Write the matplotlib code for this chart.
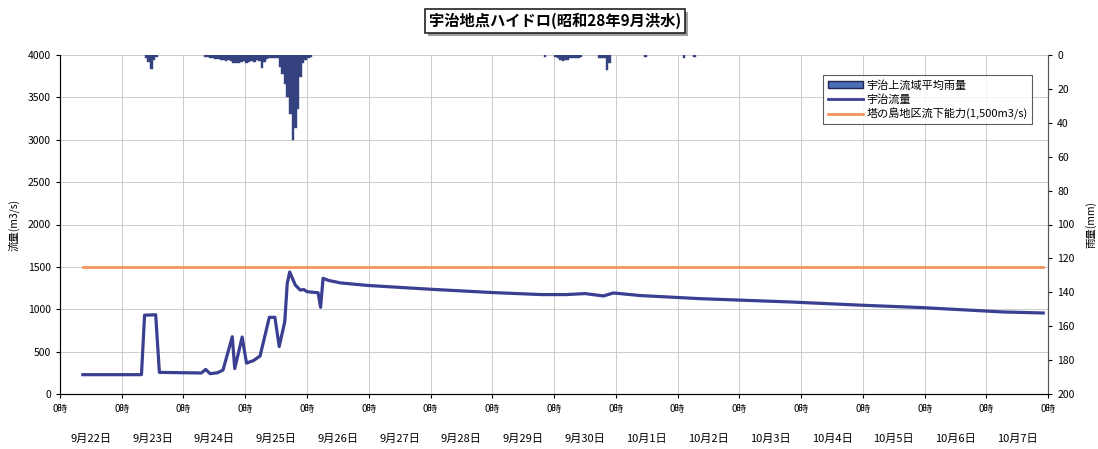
import matplotlib.pyplot as plt
import matplotlib.patheffects as pe
from matplotlib.patches import Patch
from matplotlib.lines import Line2D

plt.rcParams["font.family"] = ["Noto Sans CJK JP", "DejaVu Sans"]

TITLE = "宇治地点ハイドロ(昭和28年9月洪水)"
DATE_LABELS = ["9月22日", "9月23日", "9月24日", "9月25日", "9月26日", "9月27日",
               "9月28日", "9月29日", "9月30日", "10月1日", "10月2日", "10月3日",
               "10月4日", "10月5日", "10月6日", "10月7日"]

# 宇治流量 (m3/s), time in days from 9/22 0時
flow_days = [0.37, 1.32, 1.37, 1.55, 1.61, 2.29, 2.36, 2.43, 2.55, 2.64, 2.79,
             2.83, 2.95, 3.02, 3.13, 3.24, 3.39, 3.48, 3.55, 3.64, 3.68, 3.72,
             3.81, 3.89, 3.95, 4.00, 4.18, 4.22, 4.26, 4.35, 4.55, 5.0, 6.0,
             7.0, 7.8, 8.2, 8.5, 8.8, 8.96, 9.39, 10.36, 11.82, 13.0, 13.97,
             15.27, 15.92]
flow_vals = [228, 228, 930, 935, 255, 248, 290, 240, 250, 283, 676,
             300, 672, 365, 393, 448, 905, 905, 560, 853, 1306, 1440,
             1286, 1227, 1232, 1207, 1195, 1023, 1365, 1340, 1310, 1280, 1236,
             1197, 1173, 1173, 1185, 1157, 1192, 1162, 1125, 1086, 1047, 1019,
             968, 956]

# 塔の島地区流下能力
cap_days = [0.37, 15.92]
cap_vals = [1500, 1500]

# 宇治上流域平均雨量 (mm/h): hour index from 9/22 0時
rain_hours = ([33, 34, 35, 36, 37]
              + list(range(56, 98))
              + [188, 192, 193, 194, 195, 196, 197, 198, 199, 200, 201, 202,
                 209, 210, 211, 212, 213, 227, 242, 246])
rain_vals = ([2, 4, 8.5, 3, 1]
             + [1, 1, 1.5, 2, 2.5, 2.5, 3, 3, 3.5, 3, 3.5, 5, 4.5, 5, 4, 3.5,
                5, 4, 3.5, 4, 3, 3.5, 7.5, 4, 2.5, 2, 1.5, 1.5, 2, 7, 11, 17,
                25, 35, 50, 43, 32, 13, 5, 3, 1.5, 1]
             + [1, 1, 1.5, 3, 3.5, 3, 3, 2, 2, 2, 1.5, 1,
                1.5, 2, 2, 9, 5, 1, 1.5, 1])

FLOW_COLOR = "#3a3f92"
CAP_COLOR = "#f7945c"
RAIN_COLOR = "#34427f"

fig = plt.figure(figsize=(10.98, 4.49), dpi=100)
ax = fig.add_axes([0.0546, 0.1225, 0.9, 0.755])

ax.plot(cap_days, cap_vals, color=CAP_COLOR, lw=2)
ax.plot(flow_days, flow_vals, color=FLOW_COLOR, lw=2.3)

ax.set_xlim(0, 16)
ax.set_ylim(0, 4000)
ax.set_yticks(range(0, 4001, 500))
ax.set_xticks(range(0, 17))
ax.set_xticklabels(["0時"] * 17, fontsize=7)
ax.set_xticks([d + 0.5 for d in range(16)], minor=True)
ax.set_xticklabels(DATE_LABELS, minor=True, fontsize=8)
ax.tick_params(axis="x", which="minor", length=0, pad=29)
ax.tick_params(axis="x", which="major", length=3, pad=4)
ax.tick_params(axis="y", labelsize=7.5, length=3)
ax.grid(True, which="major", color="#c4c4c4", lw=0.6)
ax.spines["top"].set_visible(False)
for s in ["left", "bottom", "right"]:
    ax.spines[s].set_color("#555555")
ax.set_ylabel("流量(m3/s)", fontsize=7.5, labelpad=6)

ax2 = ax.twinx()
ax2.bar([h / 24 for h in rain_hours], rain_vals, width=1 / 24, align="edge",
        color=RAIN_COLOR, edgecolor=RAIN_COLOR, lw=0.3)
ax2.set_ylim(200, 0)
ax2.set_yticks(range(0, 201, 20))
ax2.tick_params(axis="y", labelsize=7.5, length=3)
ax2.spines["top"].set_visible(False)
ax2.spines["right"].set_color("#555555")
ax2.set_ylabel("雨量(mm)", fontsize=7.5, rotation=90, labelpad=8)

handles = [Patch(facecolor="#4a6fb8", edgecolor="#1e2550"),
           Line2D([0], [0], color=FLOW_COLOR, lw=2),
           Line2D([0], [0], color=CAP_COLOR, lw=2)]
labels = ["宇治上流域平均雨量", "宇治流量", "塔の島地区流下能力(1,500m3/s)"]
leg = ax2.legend(handles, labels, loc="upper right", bbox_to_anchor=(0.984, 0.94),
                 fontsize=8, frameon=True, fancybox=False, borderpad=0.4,
                 handlelength=3.2, handletextpad=0.3, labelspacing=0.3,
                 borderaxespad=0)
leg.get_frame().set_edgecolor("#333333")
leg.get_frame().set_linewidth(0.8)

title = fig.text(0.5055, 0.953, TITLE, ha="center", va="center", fontsize=11,
                 fontweight="bold",
                 bbox=dict(boxstyle="square,pad=0.25", facecolor="white",
                           edgecolor="#222222", lw=1.2))
title.get_bbox_patch().set_path_effects(
    [pe.SimplePatchShadow(offset=(2, -2), shadow_rgbFace="#777777", alpha=0.7),
     pe.Normal()])

fig.savefig("out.png", dpi=100)
